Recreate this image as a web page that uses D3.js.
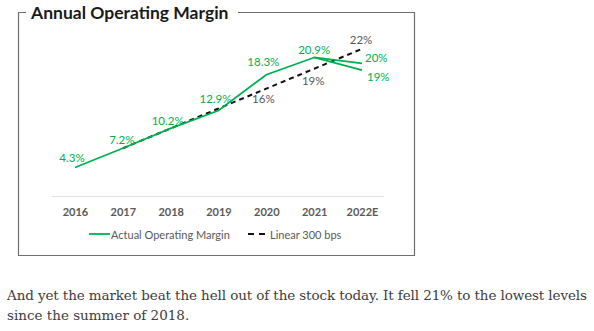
<!DOCTYPE html>
<html lang="en">
<head>
<meta charset="UTF-8">
<title>Annual Operating Margin</title>
<script src="https://d3js.org/d3.v7.min.js"></script>
<style>
  body { margin: 0; background: #fff; }
  svg { display: block; }
</style>
</head>
<body>
<script>
// data
var years = ["2016", "2017", "2018", "2019", "2020", "2021", "2022E"];
var actual = [4.3, 7.2, 10.2, 12.9, 18.3, 20.9];          // 2016-2021
var forecast = [20, 19];                                  // two 2022E branches
var linear = [null, 7.2, 10.2, 13.2, 16.2, 19.2, 22.2];   // 300 bps per year
var linearLabelled = ["2020", "2021", "2022E"];
var footText = [
  "And yet the market beat the hell out of the stock today. It fell 21% to the lowest levels",
  "since the summer of 2018."
];

var width = 594, height = 331;
var green = "#00b050", grey = "#595959";
var chartFont = "Lato, 'Open Sans', sans-serif";

var svg = d3.select("body").append("svg")
  .attr("width", width)
  .attr("height", height);

var x = d3.scalePoint().domain(years).range([75, 362]);
var y = d3.scaleLinear().domain([0, 25]).range([196, 30.3]);

// frame with title breaking the top edge
svg.append("path")
  .attr("d", "M26,12.5 H18.5 V255.5 H414.5 V12.5 H238")
  .attr("fill", "none")
  .attr("stroke", "#6f6f6f")
  .attr("stroke-width", 1.2);

svg.append("text")
  .attr("x", 31)
  .attr("y", 18.5)
  .attr("font-family", chartFont)
  .attr("font-weight", "bold")
  .attr("font-size", "17.5px")
  .attr("fill", "#1a1a1a")
  .text("Annual Operating Margin");

// x axis
var xAxis = svg.append("g")
  .attr("transform", "translate(0," + y(0) + ")")
  .call(d3.axisBottom(x).tickSize(0).tickPadding(12));
xAxis.select(".domain")
  .attr("d", "M52,0.5H384")
  .attr("stroke", "#e3e3e3");
xAxis.selectAll("text")
  .attr("font-family", chartFont)
  .attr("font-weight", "bold")
  .attr("font-size", "11px")
  .attr("fill", grey);

// lines
var line = d3.line()
  .defined(function (d) { return d.v != null; })
  .x(function (d) { return x(d.year); })
  .y(function (d) { return y(d.v); });

var actualPts = actual.map(function (v, i) { return { year: years[i], v: v }; });
var linearPts = linear.map(function (v, i) { return { year: years[i], v: v }; });

svg.append("path")
  .datum(linearPts)
  .attr("d", line)
  .attr("fill", "none")
  .attr("stroke", "#111")
  .attr("stroke-width", 2)
  .attr("stroke-dasharray", "5,4");

svg.append("path")
  .datum(actualPts)
  .attr("d", line)
  .attr("fill", "none")
  .attr("stroke", green)
  .attr("stroke-width", 1.8);

forecast.forEach(function (v) {
  svg.append("path")
    .datum([actualPts[actualPts.length - 1], { year: years[6], v: v }])
    .attr("d", line)
    .attr("fill", "none")
    .attr("stroke", green)
    .attr("stroke-width", 1.8);
});

// labels (offsets from each point)
var labelSize = "11.5px";
var actualOffsets = [[-3, -10], [-1, -9], [-3, -8], [-3, -12], [-3, -13], [0, -8]];
svg.append("g").selectAll("text")
  .data(actualPts)
  .join("text")
  .attr("x", function (d, i) { return x(d.year) + actualOffsets[i][0]; })
  .attr("y", function (d, i) { return y(d.v) + actualOffsets[i][1]; })
  .attr("text-anchor", "middle")
  .attr("dominant-baseline", "central")
  .attr("font-family", chartFont)
  .attr("font-size", labelSize)
  .attr("fill", green)
  .text(function (d) { return d.v.toFixed(1) + "%"; });

var forecastOffsets = [[3, -6], [5, 6]];
svg.append("g").selectAll("text")
  .data(forecast)
  .join("text")
  .attr("x", function (d, i) { return x(years[6]) + forecastOffsets[i][0]; })
  .attr("y", function (d, i) { return y(d) + forecastOffsets[i][1]; })
  .attr("dominant-baseline", "central")
  .attr("font-family", chartFont)
  .attr("font-size", labelSize)
  .attr("fill", green)
  .text(function (d) { return d + "%"; });

var linearOffsets = { "2020": [-3, 10], "2021": [-1, 12], "2022E": [-1, -9] };
svg.append("g").selectAll("text")
  .data(linearPts.filter(function (d) { return linearLabelled.indexOf(d.year) >= 0; }))
  .join("text")
  .attr("x", function (d) { return x(d.year) + linearOffsets[d.year][0]; })
  .attr("y", function (d) { return y(d.v) + linearOffsets[d.year][1]; })
  .attr("text-anchor", "middle")
  .attr("dominant-baseline", "central")
  .attr("font-family", chartFont)
  .attr("font-size", labelSize)
  .attr("fill", grey)
  .text(function (d) { return Math.round(d.v) + "%"; });

// legend
var legend = svg.append("g")
  .attr("font-family", chartFont)
  .attr("font-size", "11px")
  .attr("fill", grey);
legend.append("line")
  .attr("x1", 89).attr("x2", 110).attr("y1", 234).attr("y2", 234)
  .attr("stroke", green).attr("stroke-width", 1.8);
legend.append("text")
  .attr("x", 111).attr("y", 234)
  .attr("dominant-baseline", "central")
  .text("Actual Operating Margin");
legend.append("line")
  .attr("x1", 248).attr("x2", 267).attr("y1", 234).attr("y2", 234)
  .attr("stroke", "#111").attr("stroke-width", 2)
  .attr("stroke-dasharray", "6,5");
legend.append("text")
  .attr("x", 270).attr("y", 234)
  .attr("dominant-baseline", "central")
  .text("Linear 300 bps");

// article text below the chart
svg.append("g").selectAll("text")
  .data(footText)
  .join("text")
  .attr("x", 7)
  .attr("y", function (d, i) { return 300 + i * 19.5; })
  .attr("font-family", "'DejaVu Serif', serif")
  .attr("font-size", "13.5px")
  .attr("fill", "#3d3d3d")
  .attr("textLength", function (d, i) { return i === 0 ? 580 : null; })
  .text(function (d) { return d; });
</script>
</body>
</html>
